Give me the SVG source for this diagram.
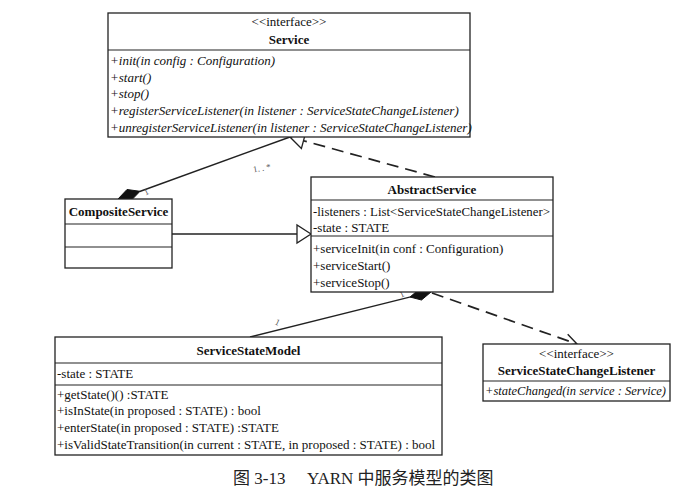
<svg xmlns="http://www.w3.org/2000/svg" width="699" height="493" viewBox="0 0 699 493">
<style>
.box{fill:#fff;stroke:#222;stroke-width:1.3}
.div{stroke:#222;stroke-width:1.2}
.t{font-family:'Liberation Serif','DejaVu Serif',serif;font-size:13px;fill:#111}
.b{font-weight:bold}
.i{font-style:italic}
.c{text-anchor:middle}
.ln{fill:none;stroke:#222;stroke-width:1.4}
.dash{fill:none;stroke:#222;stroke-width:1.7;stroke-dasharray:12 7}
.tri{fill:#fff;stroke:#222;stroke-width:1.3}
.dia{fill:#111;stroke:#111;stroke-width:1}
.m{font-family:'Liberation Serif','DejaVu Serif',serif;font-size:9px;fill:#555}
.cap{font-family:'Liberation Serif','Noto Sans CJK SC',serif;font-size:17px;fill:#222}
</style>
<rect width="699" height="493" fill="#fff"/>

<g id="connectors">
  <line class="ln" x1="172" y1="234" x2="297" y2="234"/>
  <polygon class="tri" points="311,234 297,225 297,243"/>
  <line class="ln" x1="139.7" y1="191.5" x2="290" y2="137"/>
  <polygon class="dia" points="118,199 127,189.5 140,191.3 131,200.6"/>
  <text class="m" x="253" y="171" transform="rotate(-10 262 169)">1. . *</text>
  <text class="m" x="144" y="195" transform="rotate(-25 146 192)">1</text>
  <line class="dash" x1="435" y1="177" x2="303.5" y2="140.7"/>
  <polygon class="tri" points="290,137 305.6,133 301.4,148.4"/>
  <line class="ln" x1="410.6" y1="296.9" x2="250" y2="337"/>
  <polygon class="dia" points="431,292 419.5,289 410,297 421.5,300"/>
  <text class="m" x="400" y="297" transform="rotate(-25 402 295)">1</text>
  <text class="m" x="275" y="325" transform="rotate(25 277 323)">1</text>
  <line class="dash" x1="432" y1="293" x2="575" y2="343.3"/>
  <polyline class="ln" points="563.7,345.7 577,344 567.7,334.3"/>
</g>

<g id="Service">
  <rect class="box" x="108" y="13" width="362" height="124"/>
  <line class="div" x1="108" y1="50" x2="470" y2="50"/>
  <text class="t c" x="289" y="26">&lt;&lt;interface&gt;&gt;</text>
  <text class="t b c" x="289" y="44">Service</text>
  <text class="t i" x="110" y="65">+init(in config : Configuration)</text>
  <text class="t i" x="110" y="82">+start()</text>
  <text class="t i" x="110" y="98">+stop()</text>
  <text class="t i" x="110" y="115">+registerServiceListener(in listener : ServiceStateChangeListener)</text>
  <text class="t i" x="110" y="132">+unregisterServiceListener(in listener : ServiceStateChangeListener)</text>
</g>

<g id="CompositeService">
  <rect class="box" x="65" y="199" width="107" height="69"/>
  <line class="div" x1="65" y1="224" x2="172" y2="224"/>
  <line class="div" x1="65" y1="247" x2="172" y2="247"/>
  <text class="t b c" x="118.5" y="216">CompositeService</text>
</g>

<g id="AbstractService">
  <rect class="box" x="311" y="177" width="242" height="115"/>
  <line class="div" x1="311" y1="200" x2="553" y2="200"/>
  <line class="div" x1="311" y1="236" x2="553" y2="236"/>
  <text class="t b c" x="432" y="194">AbstractService</text>
  <text class="t" x="313" y="216" textLength="237" lengthAdjust="spacingAndGlyphs">-listeners : List&lt;ServiceStateChangeListener&gt;</text>
  <text class="t" x="313" y="232">-state : STATE</text>
  <text class="t" x="313" y="253">+serviceInit(in conf : Configuration)</text>
  <text class="t" x="313" y="270">+serviceStart()</text>
  <text class="t" x="313" y="287">+serviceStop()</text>
</g>

<g id="ServiceStateModel">
  <rect class="box" x="55" y="337" width="387" height="118"/>
  <line class="div" x1="55" y1="363" x2="442" y2="363"/>
  <line class="div" x1="55" y1="385" x2="442" y2="385"/>
  <text class="t b c" x="248.5" y="355">ServiceStateModel</text>
  <text class="t" x="57" y="378">-state : STATE</text>
  <text class="t" x="57" y="399">+getState()() :STATE</text>
  <text class="t" x="57" y="415">+isInState(in proposed : STATE) : bool</text>
  <text class="t" x="57" y="432">+enterState(in proposed : STATE) :STATE</text>
  <text class="t" x="57" y="449">+isValidStateTransition(in current : STATE, in proposed : STATE) : bool</text>
</g>

<g id="ServiceStateChangeListener">
  <rect class="box" x="483" y="344" width="187" height="57"/>
  <line class="div" x1="483" y1="381" x2="670" y2="381"/>
  <text class="t c" x="576.5" y="358">&lt;&lt;interface&gt;&gt;</text>
  <text class="t b c" x="576.5" y="375">ServiceStateChangeListener</text>
  <text class="t i" x="485" y="395" textLength="181" lengthAdjust="spacingAndGlyphs">+stateChanged(in service : Service)</text>
</g>

<g id="caption">
  <text class="cap" x="233" y="484">图 3-13</text>
  <text class="cap" x="307" y="484">YARN 中服务模型的类图</text>
</g>
</svg>
